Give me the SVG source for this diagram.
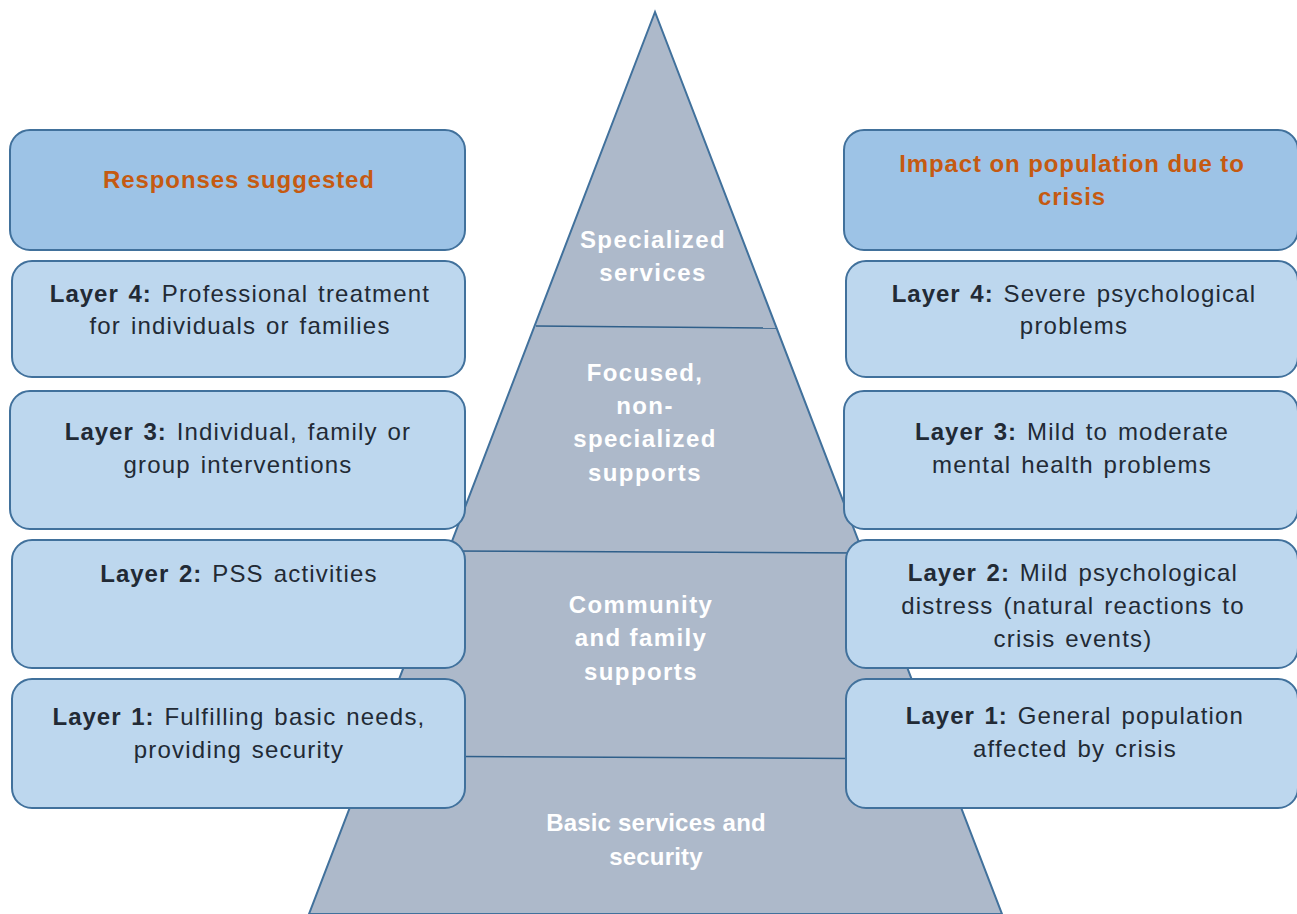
<svg xmlns="http://www.w3.org/2000/svg" width="1297" height="914" viewBox="0 0 1297 914">
<style>
.hdr{fill:#9dc3e6;stroke:#41719c;stroke-width:2}
.box{fill:#bdd7ee;stroke:#41719c;stroke-width:2}
.ht{font-family:"Liberation Sans",Arial,sans-serif;font-size:24px;font-weight:bold;fill:#c55a11;text-anchor:middle;letter-spacing:0.9px}
.bt{font-family:"Liberation Sans",Arial,sans-serif;font-size:24px;fill:#222a35;text-anchor:middle;letter-spacing:1.2px;word-spacing:2px}
.bt tspan.b{font-weight:bold;letter-spacing:1px}
.pt{font-family:"Liberation Sans",Arial,sans-serif;font-size:24px;font-weight:bold;fill:#ffffff;text-anchor:middle;letter-spacing:1.4px}
.pt.tight{letter-spacing:0.2px}
.div{stroke:#2f5f8a;stroke-width:1.5;fill:none}
</style>
<g id="pyramid">
<polygon points="655,12 309,914 1002,914" fill="#adb9ca" stroke="#41719c" stroke-width="2"/>
</g>
<g id="connectors">
<line class="div" x1="536" y1="326" x2="776" y2="328"/>
<line class="div" x1="449" y1="551" x2="861" y2="553"/>
<line class="div" x1="370" y1="756" x2="940" y2="759"/>
</g>
<g id="tier4">
<text class="pt" x="653" y="248">Specialized</text>
<text class="pt" x="653" y="281">services</text>
</g>
<g id="tier3">
<text class="pt" x="645" y="381">Focused,</text>
<text class="pt" x="645" y="414">non-</text>
<text class="pt" x="645" y="447">specialized</text>
<text class="pt" x="645" y="481">supports</text>
</g>
<g id="tier2">
<text class="pt" x="641" y="613">Community</text>
<text class="pt" x="641" y="646">and family</text>
<text class="pt" x="641" y="680">supports</text>
</g>
<g id="tier1">
<text class="pt tight" x="656" y="831">Basic services and</text>
<text class="pt tight" x="656" y="865">security</text>
</g>
<g id="left-header">
<rect class="hdr" x="10" y="130" width="455" height="120" rx="20"/>
<text class="ht" x="239" y="188">Responses suggested</text>
</g>
<g id="left-layer4">
<rect class="box" x="12" y="261" width="453" height="116" rx="20"/>
<text class="bt" x="240" y="302"><tspan class="b">Layer 4:</tspan> Professional treatment</text>
<text class="bt" x="240" y="334">for individuals or families</text>
</g>
<g id="left-layer3">
<rect class="box" x="10" y="391" width="455" height="138" rx="20"/>
<text class="bt" x="238" y="440"><tspan class="b">Layer 3:</tspan> Individual, family or</text>
<text class="bt" x="238" y="473">group interventions</text>
</g>
<g id="left-layer2">
<rect class="box" x="12" y="540" width="453" height="128" rx="20"/>
<text class="bt" x="239" y="582"><tspan class="b">Layer 2:</tspan> PSS activities</text>
</g>
<g id="left-layer1">
<rect class="box" x="12" y="679" width="453" height="129" rx="20"/>
<text class="bt" x="239" y="725"><tspan class="b">Layer 1:</tspan> Fulfilling basic needs,</text>
<text class="bt" x="239" y="758">providing security</text>
</g>
<g id="right-header">
<rect class="hdr" x="844" y="130" width="454" height="120" rx="20"/>
<text class="ht" x="1072" y="172">Impact on population due to</text>
<text class="ht" x="1072" y="205">crisis</text>
</g>
<g id="right-layer4">
<rect class="box" x="846" y="261" width="452" height="116" rx="20"/>
<text class="bt" x="1074" y="302"><tspan class="b">Layer 4:</tspan> Severe psychological</text>
<text class="bt" x="1074" y="334">problems</text>
</g>
<g id="right-layer3">
<rect class="box" x="844" y="391" width="454" height="138" rx="20"/>
<text class="bt" x="1072" y="440"><tspan class="b">Layer 3:</tspan> Mild to moderate</text>
<text class="bt" x="1072" y="473">mental health problems</text>
</g>
<g id="right-layer2">
<rect class="box" x="846" y="540" width="452" height="128" rx="20"/>
<text class="bt" x="1073" y="581"><tspan class="b">Layer 2:</tspan> Mild psychological</text>
<text class="bt" x="1073" y="614">distress (natural reactions to</text>
<text class="bt" x="1073" y="647">crisis events)</text>
</g>
<g id="right-layer1">
<rect class="box" x="846" y="679" width="452" height="129" rx="20"/>
<text class="bt" x="1075" y="724"><tspan class="b">Layer 1:</tspan> General population</text>
<text class="bt" x="1075" y="757">affected by crisis</text>
</g>
</svg>
